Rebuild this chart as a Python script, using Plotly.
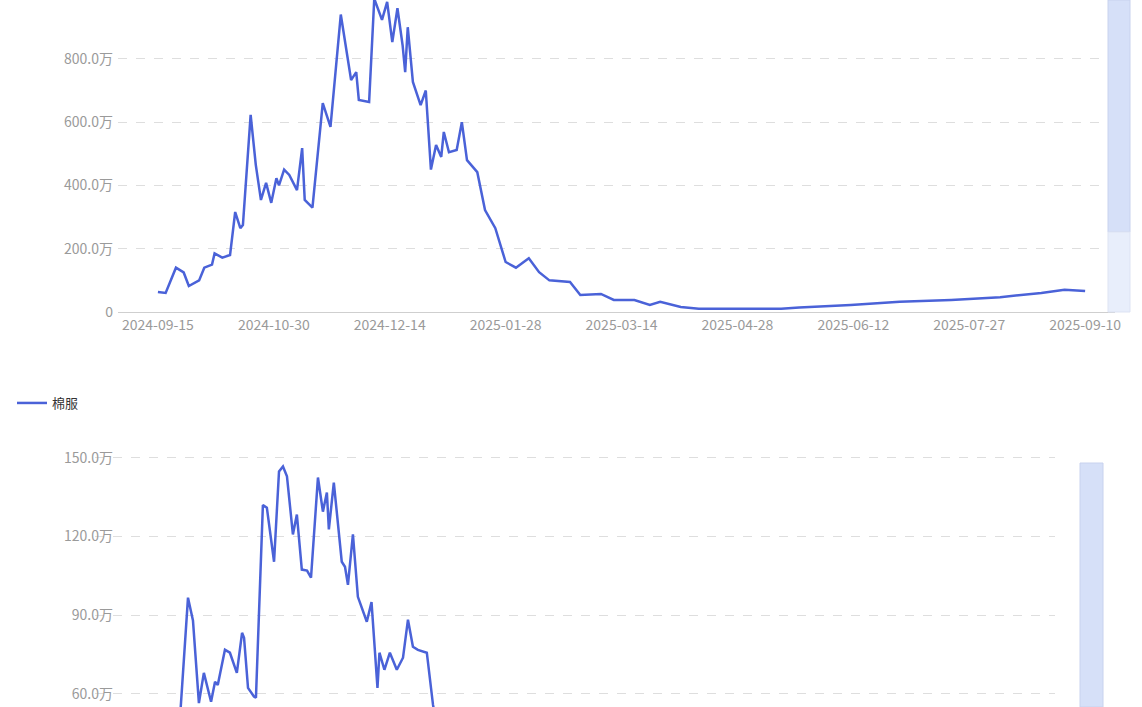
import pandas as pd
import plotly.graph_objects as go

start = pd.Timestamp("2024-09-15")

# top chart (units: 万)
top_days = [0,3,7,10,12,16,18,21,22,25,28,30,32,33,36,38,40,42,44,46,47,49,51,54,56,57,60,64,67,71,75,77,78,82,84,87,89,91,93,95,96,97,99,102,104,106,108,110,111,113,116,118,120,124,127,131,135,139,144,148,152,160,164,172,177,185,191,195,203,210,226,242,249,269,288,308,327,343,352,360]
top_vals = [63,60,140,125,82,100,140,150,185,172,180,316,265,275,623,465,354,408,345,423,400,450,433,385,518,354,330,660,585,940,733,758,670,664,990,923,980,853,960,843,758,900,727,654,700,450,528,490,569,505,512,600,480,442,322,265,158,140,170,126,100,95,54,57,38,38,22,32,16,10,10,10,14,22,32,38,47,60,70,66]

# bottom chart 棉服 (units: 万)
bot_days = [0,7,15,19,22,24,26.4,28.4,31.3,32.9,34,36.9,38.9,41.7,43.8,44.6,46.2,48.6,49.4,52.2,53.8,56.7,58.7,60.3,61.9,64.3,65.9,67.9,70,71.6,74.4,76.4,78,78.8,80.8,84,85.3,86.5,88.5,90.5,92.5,94.1,96,98.4,99.2,101.2,103.4,106.2,108.7,110.7,112.7,114.7,118.3,120.8,124,135,150,200,260,320,360]
bot_vals = [20,30,42,54,96.7,88,56.5,68,57,64.6,63.4,76.8,75.7,68,83.3,81.4,62.3,59,58.5,132,131,110.4,144.8,146.7,143,120.8,128.4,107.4,107,104.3,142.5,129.5,136.8,122.7,140.6,110.4,108.5,101.6,120.8,97,92,87.5,95,62.3,75.7,69.2,75.7,69.2,73.8,88.3,78,76.8,75.7,55.8,40,20,10,3,2,3,4]

top_ticks = [0, 200, 400, 600, 800, 1000]
bot_ticks = [60, 90, 120, 150]
x_tick_days = [0, 45, 90, 135, 180, 225, 270, 315, 360]

def d(days):
    return [start + pd.Timedelta(days=v) for v in days]

def lab(v):
    return "0" if v == 0 else f"{v:.1f}万"

W, H = 1142, 707
color = "#4a62d8"
fig = go.Figure()
fig.add_trace(go.Scatter(x=d(top_days), y=top_vals, mode="lines", line=dict(color=color, width=2.5),
                         xaxis="x", yaxis="y", showlegend=False))
fig.add_trace(go.Scatter(x=d(bot_days), y=bot_vals, mode="lines", line=dict(color=color, width=2.5),
                         xaxis="x2", yaxis="y2", name="棉服", showlegend=True))

xr = [start + pd.Timedelta(days=-15.5), start + pd.Timedelta(days=371.6)]
tv = d(x_tick_days)
tt = [t.strftime("%Y-%m-%d") for t in tv]
gray = "#9a9a9a"
common_x = dict(type="date", range=xr, tickvals=tv, ticktext=tt, showgrid=False, automargin=False, zeroline=False)
fig.update_layout(
    width=W, height=H, margin=dict(l=0, r=0, t=0, b=0, autoexpand=False),
    paper_bgcolor="white", plot_bgcolor="white",
    font=dict(family="Noto Sans CJK SC"),
    xaxis=dict(domain=[118/W, 1115/W], anchor="y", showline=True, linecolor="#cfcfcf", ticks="",
               tickfont=dict(size=14, color=gray), **common_x),
    yaxis=dict(domain=[1-312/H, 1], range=[0, 986], tickvals=top_ticks, ticktext=[lab(v) for v in top_ticks],
               showgrid=True, gridcolor="#dedede", griddash="dash", zeroline=False, automargin=False,
               tickfont=dict(size=14, color=gray), ticklabelstandoff=4),
    xaxis2=dict(domain=[95/W, 1055/W], anchor="y2", showticklabels=False, **common_x),
    yaxis2=dict(domain=[0, 1-455/H], range=[55.0, 151.1], tickvals=bot_ticks, ticktext=[lab(v) for v in bot_ticks],
                showgrid=True, gridcolor="#dedede", griddash="dash", zeroline=False, automargin=False,
                tickfont=dict(size=14, color=gray), ticklabelstandoff=4),
    legend=dict(x=12/W, y=1-403/H, xanchor="left", yanchor="middle", font=dict(size=13, color="#333"),
                bgcolor="rgba(0,0,0,0)", itemwidth=30),
)
# vertical zoom sliders (decoration)
fig.add_shape(type="rect", xref="paper", yref="paper", x0=1108/W, x1=1130/W, y0=1-232/H, y1=1,
              fillcolor="#d6e0f8", line=dict(color="#c8d2ee", width=1))
fig.add_shape(type="rect", xref="paper", yref="paper", x0=1108/W, x1=1130/W, y0=1-312/H, y1=1-232/H,
              fillcolor="#e8eefb", line=dict(color="#dde3f3", width=1))
fig.add_shape(type="rect", xref="paper", yref="paper", x0=1080/W, x1=1103/W, y0=0, y1=1-463/H,
              fillcolor="#d6e0f8", line=dict(color="#c8d2ee", width=1))
fig.write_html("out.html", config={"displayModeBar": False},
               post_script="document.body.style.margin='0';document.body.style.overflow='hidden';")
